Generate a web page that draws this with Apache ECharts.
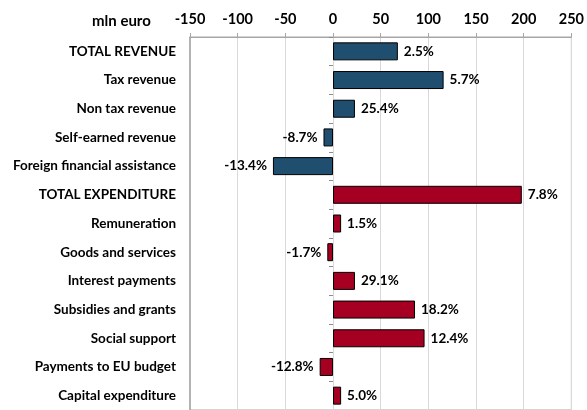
<!DOCTYPE html>
<html>
<head>
<meta charset="utf-8">
<script src="https://cdn.jsdelivr.net/npm/echarts@6/dist/echarts.min.js"></script>
<style>
  html, body { margin: 0; padding: 0; background: #fff; }
  #chart { width: 587px; height: 410px; }
</style>
</head>
<body>
<div id="chart"></div>
<script>
const categories = [
  'TOTAL REVENUE', 'Tax revenue', 'Non tax revenue', 'Self-earned revenue',
  'Foreign financial assistance', 'TOTAL EXPENDITURE', 'Remuneration',
  'Goods and services', 'Interest payments', 'Subsidies and grants',
  'Social support', 'Payments to EU budget', 'Capital expenditure'
];
// change, mln euro
const values = [68, 116, 23, -10, -63, 198, 8.5, -6, 23, 86, 96, -14, 8.5];
// growth rate shown next to each bar
const pctLabels = ['2.5%', '5.7%', '25.4%', '-8.7%', '-13.4%', '7.8%', '1.5%',
  '-1.7%', '29.1%', '18.2%', '12.4%', '-12.8%', '5.0%'];
const revenueCount = 5;

const FONT = 'Lato';

const chart = echarts.init(document.getElementById('chart'));

const makeData = (isRevenue) => values.map((v, i) => {
  if ((i < revenueCount) !== isRevenue) return '-';
  return { value: v, label: { position: v < 0 ? 'left' : 'right' } };
});

const barLabel = {
  show: true,
  distance: 6,
  color: '#000',
  fontFamily: FONT,
  fontWeight: 'bold',
  fontSize: 13.5,
  formatter: (p) => pctLabels[p.dataIndex]
};

const option = {
  animation: false,
  grid: {
    left: 190,
    top: 37,
    width: 383,
    height: 381,
    show: true,
    borderColor: '#a6a6a6',
    borderWidth: 1
  },
  graphic: [{
    type: 'text',
    left: 92,
    top: 14,
    style: { text: 'mln euro', fontFamily: FONT, fontWeight: 'bold', fontSize: 15, fill: '#000' }
  }],
  xAxis: {
    type: 'value',
    position: 'top',
    min: -150,
    max: 250,
    interval: 50,
    axisLine: { show: true, lineStyle: { color: '#a6a6a6' } },
    axisTick: { show: true, length: 4, lineStyle: { color: '#a6a6a6' } },
    axisLabel: { color: '#000', fontFamily: FONT, fontWeight: 'bold', fontSize: 14.5, margin: 10 },
    splitLine: { show: true, lineStyle: { color: '#d9d9d9' } }
  },
  yAxis: [{
    type: 'category',
    data: categories,
    inverse: true,
    axisLine: { show: true, onZero: false, lineStyle: { color: '#a6a6a6', width: 1.5 } },
    axisTick: { show: false },
    axisLabel: { color: '#000', fontFamily: FONT, fontWeight: 'bold', fontSize: 13.5, margin: 14 }
  }, {
    type: 'category',
    data: categories,
    inverse: true,
    position: 'left',
    axisLine: { show: false, onZero: true },
    axisTick: { show: true, length: 4, lineStyle: { color: '#8c8c8c' } },
    axisLabel: { show: false },
    splitLine: { show: false }
  }],
  series: [{
    name: 'Revenue',
    type: 'bar',
    stack: 'all',
    barWidth: 18,
    data: makeData(true),
    itemStyle: { color: '#1f4e6f', borderColor: '#000', borderWidth: 1 },
    label: barLabel
  }, {
    name: 'Expenditure',
    type: 'bar',
    stack: 'all',
    barWidth: 18,
    data: makeData(false),
    itemStyle: { color: '#a50021', borderColor: '#000', borderWidth: 1 },
    label: barLabel
  }]
};

chart.setOption(option);
</script>
</body>
</html>
